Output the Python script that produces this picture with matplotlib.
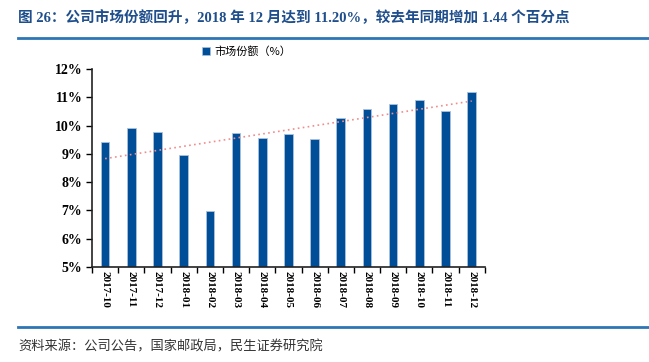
import numpy as np
import matplotlib
import matplotlib.pyplot as plt
from matplotlib.lines import Line2D
from matplotlib.patches import Patch

matplotlib.use("Agg")

months = ["2017-10", "2017-11", "2017-12", "2018-01", "2018-02", "2018-03",
          "2018-04", "2018-05", "2018-06", "2018-07", "2018-08", "2018-09",
          "2018-10", "2018-11", "2018-12"]
share = [9.42, 9.91, 9.76, 8.96, 6.98, 9.73, 9.57, 9.70, 9.51,
         10.26, 10.58, 10.76, 10.90, 10.50, 11.20]
y_ticks = [5, 6, 7, 8, 9, 10, 11, 12]

title = "图 26：公司市场份额回升，2018 年 12 月达到 11.20%，较去年同期增加 1.44 个百分点"
source = "资料来源：公司公告，国家邮政局，民生证券研究院"
legend_label = "市场份额（%）"

serif_cjk = ["Liberation Serif", "Noto Sans CJK SC"]

fig = plt.figure(figsize=(6.49, 3.62), dpi=100)
ax = fig.add_axes([0.1418, 0.2624, 0.6052, 0.547])

x = np.arange(len(months))
ax.bar(x, share, width=0.33, bottom=0, color="#004e97",
       edgecolor="#a9c1de", linewidth=0.6, zorder=2)

# linear trend line
k, b = np.polyfit(x, share, 1)
ax.plot(x, k * x + b, linestyle=(0, (1, 2)), color="#f08c8c", linewidth=1.2, zorder=3)

ax.set_xlim(-0.5, len(months) - 0.5)
ax.set_ylim(5, 12)
ax.set_yticks(y_ticks)
ax.set_yticklabels([f"{t}%" for t in y_ticks], fontfamily="Liberation Serif",
                   fontweight="bold", fontsize=10)
ax.set_xticks(np.arange(-0.5, len(months), 1.0))
ax.set_xticklabels([])
ax.set_xticks(x, minor=True)
ax.set_xticklabels(months, minor=True, rotation=270, fontfamily="Liberation Serif",
                   fontweight="bold", fontsize=8)
ax.tick_params(axis="x", which="minor", length=0, pad=3)
ax.tick_params(axis="x", which="major", direction="out", length=4, width=1)
ax.tick_params(axis="y", direction="out", length=4, width=1, pad=3)
for side in ["top", "right"]:
    ax.spines[side].set_visible(False)
for side in ["left", "bottom"]:
    ax.spines[side].set_linewidth(1.2)
    ax.spines[side].set_color("#222222")

handle = Patch(facecolor="#004e97", edgecolor="#a9c1de", linewidth=0.5)
fig.legend([handle], [legend_label], loc="center", bbox_to_anchor=(0.38, 0.858),
           frameon=False, prop={"family": "Noto Sans CJK SC", "size": 8},
           handlelength=0.7, handleheight=0.7, handletextpad=0.4)

fig.text(0.028, 0.95, title, fontsize=10.5, fontweight="bold", color="#1f4e8c",
         family=serif_cjk, va="center", ha="left")
fig.text(0.028, 0.041, source, fontsize=9.5, color="#333333",
         family=["Noto Sans CJK SC"], fontweight="light", va="center", ha="left")

fig.add_artist(Line2D([0.028, 1.0], [0.895, 0.895], color="#2e75b6", linewidth=2))
fig.add_artist(Line2D([0.028, 1.0], [0.097, 0.097], color="#2e75b6", linewidth=2))

fig.savefig("out.png", dpi=100)
